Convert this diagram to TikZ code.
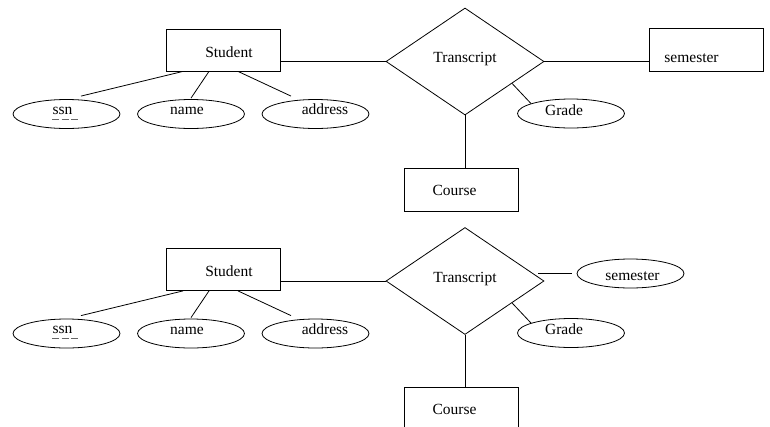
\documentclass[tikz,border=0pt]{standalone}
\usepackage{fontspec}
\setmainfont{Liberation Serif}
\usetikzlibrary{shapes.geometric,calc}

\begin{document}
\begin{tikzpicture}[x=1pt,y=-1pt,line width=0.8pt,
		entity/.style={draw, rectangle, minimum width=114pt, minimum height=43pt, inner sep=0pt},
		attrib/.style={draw, ellipse, minimum width=107pt, minimum height=29pt, inner sep=0pt},
		relship/.style={draw, diamond, minimum width=158pt, minimum height=107pt, inner sep=0pt},
		lbl/.style={anchor=base, inner sep=0pt, font=\fontsize{15.5}{18}\selectfont},
		keyline/.style={black!60, line width=0.6pt, dash pattern=on 7pt off 2.5pt}]
			\useasboundingbox (0,0) rectangle (770,426);
			\clip (0,0) rectangle (770,426);
			% semester as an entity
			\node [entity, minimum height=42pt] (student) at (223,50) {};
			\node [lbl] (studentT) at (229,57) {Student};
			\node [relship] (trans) at (465,61.5) {};
			\node [lbl] (transT) at (465,62.5) {Transcript};
			\node [entity] (sem) at (706,49.5) {};
			\node [lbl] (semT) at (691.5,62) {semester};
			\node [entity] (course) at (461,189.5) {};
			\node [lbl] (courseT) at (454.5,195) {Course};
			\node [attrib] (grade) at (571,113.5) {};
			\node [lbl] (gradeT) at (564,115) {Grade};
			\node [attrib] (ssn) at (66.5,114) {};
			\node [lbl] (ssnT) at (62.5,114) {ssn};
			\node [attrib] (nameA) at (191,114) {};
			\node [lbl] (nameT) at (187,114.5) {name};
			\node [attrib] (addr) at (315.5,114) {};
			\node [lbl] (addrT) at (325,114.5) {address};
			\draw (student.east |- trans.west) -- (trans.west);
			\draw (trans.east) -- (sem.west |- trans.east);
			\draw (trans.south) -- (trans.south |- course.north);
			\draw (trans.-25) -- (grade.166);
			\draw ([xshift=-40pt]student.south) -- ([xshift=14.5pt,yshift=3pt]ssn.north);
			\draw ([xshift=-14pt]student.south) -- ([yshift=1pt]nameA.north);
			\draw ([xshift=15pt]student.south) -- ([xshift=-24.5pt,yshift=3pt]addr.north);
			\draw [keyline] ([yshift=-5pt]ssnT.base west) -- ([xshift=7pt,yshift=-5pt]ssnT.base east);
			% semester as an attribute
			\begin{scope}[yshift=-219.5pt]
			\node [entity, minimum height=42pt] (student2) at (223,50) {};
			\node [lbl] (studentT2) at (229,57) {Student};
			\node [relship] (trans2) at (465,61.5) {};
			\node [lbl] (transT2) at (465,62.5) {Transcript};
			\node [attrib] (sem2) at (630.5,54) {};
			\node [lbl] (semT2) at (632.5,61.2) {semester};
			\node [entity] (course2) at (461,189.5) {};
			\node [lbl] (courseT2) at (454.5,195) {Course};
			\node [attrib] (grade2) at (571,113.5) {};
			\node [lbl] (gradeT2) at (564,115) {Grade};
			\node [attrib] (ssn2) at (66.5,114) {};
			\node [lbl] (ssnT2) at (62.5,114) {ssn};
			\node [attrib] (nameA2) at (191,114) {};
			\node [lbl] (nameT2) at (187,114.5) {name};
			\node [attrib] (addr2) at (315.5,114) {};
			\node [lbl] (addrT2) at (325,114.5) {address};
			\draw (student2.east |- trans2.west) -- (trans2.west);
			\draw ($(trans2.east |- sem2.west)+(-6,0)$) -- ([xshift=-5pt]sem2.west);
			\draw (trans2.south) -- (trans2.south |- course2.north);
			\draw (trans2.-25) -- (grade2.166);
			\draw ([xshift=-40pt]student2.south) -- ([xshift=14.5pt,yshift=3pt]ssn2.north);
			\draw ([xshift=-14pt]student2.south) -- ([yshift=1pt]nameA2.north);
			\draw ([xshift=15pt]student2.south) -- ([xshift=-24.5pt,yshift=3pt]addr2.north);
			\draw [keyline] ([yshift=-5pt]ssnT2.base west) -- ([xshift=7pt,yshift=-5pt]ssnT2.base east);
			\end{scope}
		\end{tikzpicture}
\end{document}
